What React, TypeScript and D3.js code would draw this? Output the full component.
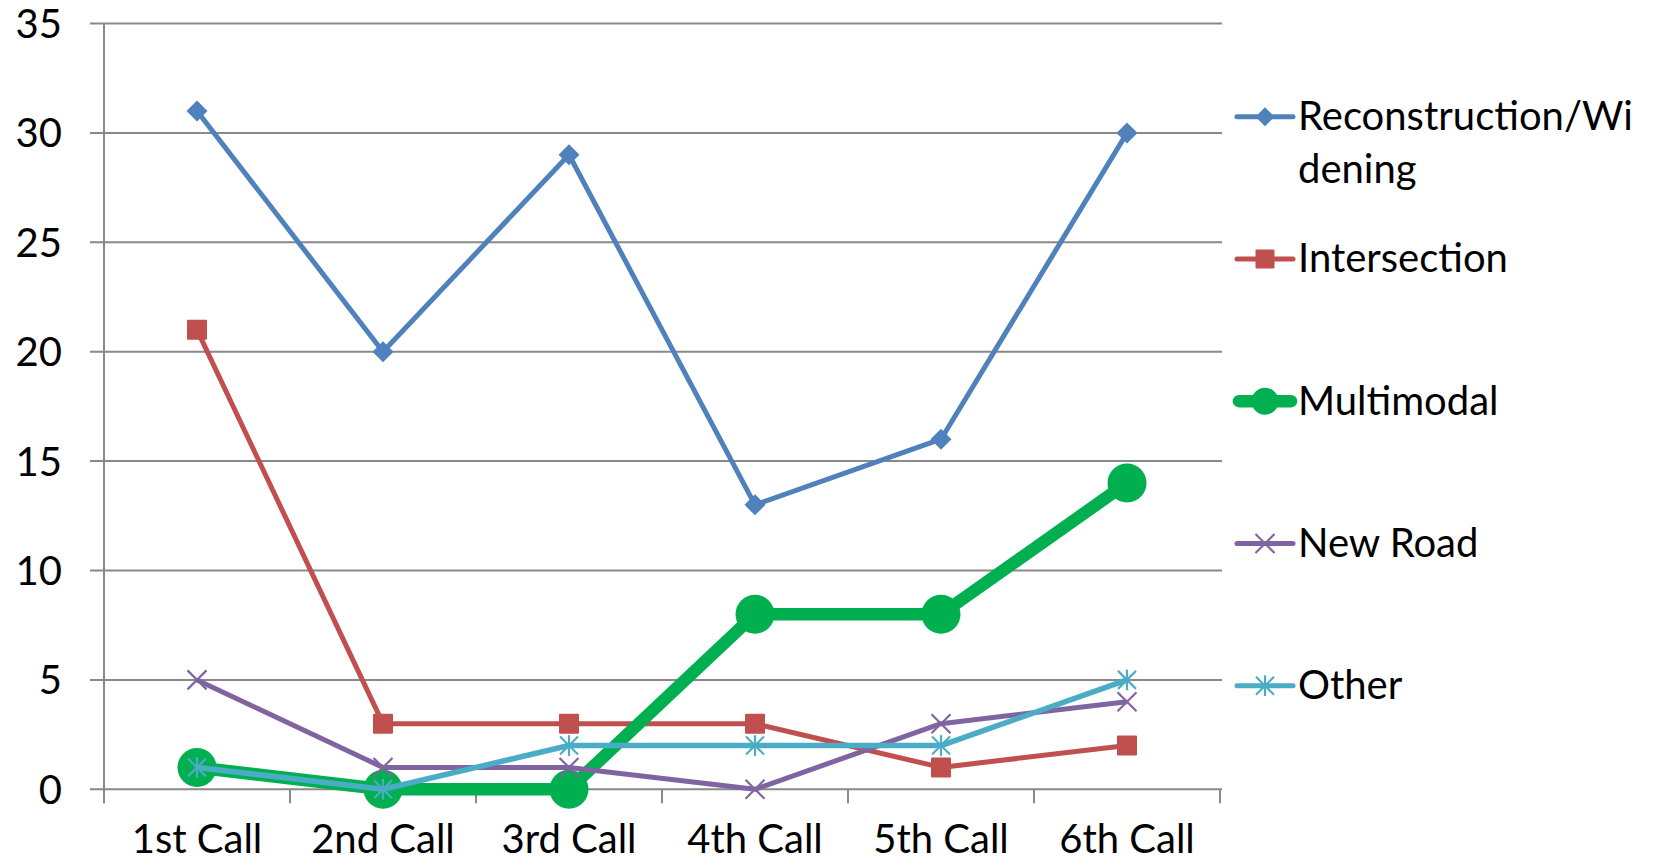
import React from "react";
import * as d3 from "d3";

const categories = ["1st Call", "2nd Call", "3rd Call", "4th Call", "5th Call", "6th Call"];
const seriesNames = ["Reconstruction/Widening", "Intersection", "Multimodal", "New Road", "Other"];
const reconstruction = [31, 20, 29, 13, 16, 30];
const intersection = [21, 3, 3, 3, 1, 2];
const multimodal = [1, 0, 0, 8, 8, 14];
const newRoad = [5, 1, 1, 0, 3, 4];
const other = [1, 0, 2, 2, 2, 5];
const yTicks = [0, 5, 10, 15, 20, 25, 30, 35];

const W = 1664;
const H = 863;
const FONT = "Lato, 'Open Sans', sans-serif";

type Marker = "diamond" | "square" | "circle" | "x" | "star";
const series = [
  { name: seriesNames[0], values: reconstruction, color: "#4F81BD", width: 5, marker: "diamond" as Marker },
  { name: seriesNames[1], values: intersection, color: "#C0504D", width: 5, marker: "square" as Marker },
  { name: seriesNames[2], values: multimodal, color: "#00B050", width: 12.5, marker: "circle" as Marker },
  { name: seriesNames[3], values: newRoad, color: "#8064A2", width: 5, marker: "x" as Marker },
  { name: seriesNames[4], values: other, color: "#4BACC6", width: 5.5, marker: "star" as Marker },
];

function MarkerShape({ type, cx, cy, color, legend }: { type: Marker; cx: number; cy: number; color: string; legend?: boolean }) {
  switch (type) {
    case "diamond": {
      const r = legend ? 9.5 : 10.5;
      return <path d={`M${cx},${cy - r}L${cx + r},${cy}L${cx},${cy + r}L${cx - r},${cy}Z`} fill={color} />;
    }
    case "square": {
      const s = legend ? 19 : 20;
      return <rect x={cx - s / 2} y={cy - s / 2} width={s} height={s} fill={color} rx={1} />;
    }
    case "circle": {
      const r = legend ? 13.5 : 19.5;
      return <circle cx={cx} cy={cy} r={r} fill={color} />;
    }
    case "x": {
      const r = 9.5;
      return (
        <g stroke={color} strokeWidth={2.2}>
          <line x1={cx - r} y1={cy - r} x2={cx + r} y2={cy + r} />
          <line x1={cx - r} y1={cy + r} x2={cx + r} y2={cy - r} />
        </g>
      );
    }
    case "star": {
      const r = 9;
      return (
        <g stroke={color} strokeWidth={2.2}>
          <line x1={cx - r} y1={cy - r} x2={cx + r} y2={cy + r} />
          <line x1={cx - r} y1={cy + r} x2={cx + r} y2={cy - r} />
          <line x1={cx} y1={cy - r * 1.15} x2={cx} y2={cy + r * 1.15} />
        </g>
      );
    }
  }
  return null;
}

export default function App() {
  const left = 104;
  const right = 1220;
  const x = d3.scaleBand<string>().domain(categories).range([left, right]).padding(0);
  const y = d3.scaleLinear().domain([0, 35]).range([789.3, 23.5]);
  const cx = (c: string) => (x(c) as number) + x.bandwidth() / 2;
  const line = d3
    .line<number>()
    .x((_, i) => cx(categories[i]))
    .y((v) => y(v));

  const boundaries = categories.map((c) => x(c) as number).concat([right]);

  const legendX0 = 1237;
  const legendX1 = 1293;
  const legendTextX = 1298;
  const legendY0 = 116.7;
  const legendStep = 142.25;

  const wrap = (s: string) => (s.length > 17 ? [s.slice(0, 17), s.slice(17)] : [s]);

  return (
    <svg width={W} height={H} style={{ position: "absolute", left: 0, top: 0, background: "#fff" }} fontFamily={FONT}>
      {/* gridlines */}
      {yTicks.map((t) => (
        <line key={t} x1={90} x2={right + 2} y1={y(t)} y2={y(t)} stroke="#898989" strokeWidth={2} />
      ))}
      {/* y axis */}
      <line x1={left} x2={left} y1={y(35)} y2={y(0) + 14} stroke="#898989" strokeWidth={2} />
      {/* x ticks */}
      {boundaries.map((b, i) => (
        <line key={i} x1={b} x2={b} y1={y(0)} y2={y(0) + 14} stroke="#898989" strokeWidth={2} />
      ))}
      {/* y labels */}
      {yTicks.map((t) => (
        <text key={t} x={62} y={y(t) + 14.5} textAnchor="end" fontSize={40} fill="#000">
          {t}
        </text>
      ))}
      {/* x labels */}
      {categories.map((c) => (
        <text key={c} x={cx(c)} y={853} textAnchor="middle" fontSize={40} fill="#000">
          {c}
        </text>
      ))}
      {/* series */}
      {series.map((s) => (
        <g key={s.name}>
          <path d={line(s.values) || ""} fill="none" stroke={s.color} strokeWidth={s.width} strokeLinejoin="round" />
          {s.values.map((v, i) => (
            <MarkerShape key={i} type={s.marker} cx={cx(categories[i])} cy={y(v)} color={s.color} />
          ))}
        </g>
      ))}
      {/* legend */}
      {series.map((s, i) => {
        const ly = legendY0 + i * legendStep;
        const lines = wrap(s.name);
        const lw = s.marker === "circle" ? 12.5 : 5;
        return (
          <g key={s.name}>
            <line x1={legendX0 + (s.marker === "circle" ? 2 : 0)} x2={legendX1 - (s.marker === "circle" ? 2 : 0)} y1={ly} y2={ly} stroke={s.color} strokeWidth={lw} strokeLinecap="round" />
            <MarkerShape type={s.marker} cx={(legendX0 + legendX1) / 2} cy={ly} color={s.color} legend />
            <text x={legendTextX} y={ly + 13.5} fontSize={40} fill="#000">
              {lines.map((l, j) => (
                <tspan key={j} x={legendTextX} dy={j === 0 ? 0 : 53}>
                  {l}
                </tspan>
              ))}
            </text>
          </g>
        );
      })}
    </svg>
  );
}
